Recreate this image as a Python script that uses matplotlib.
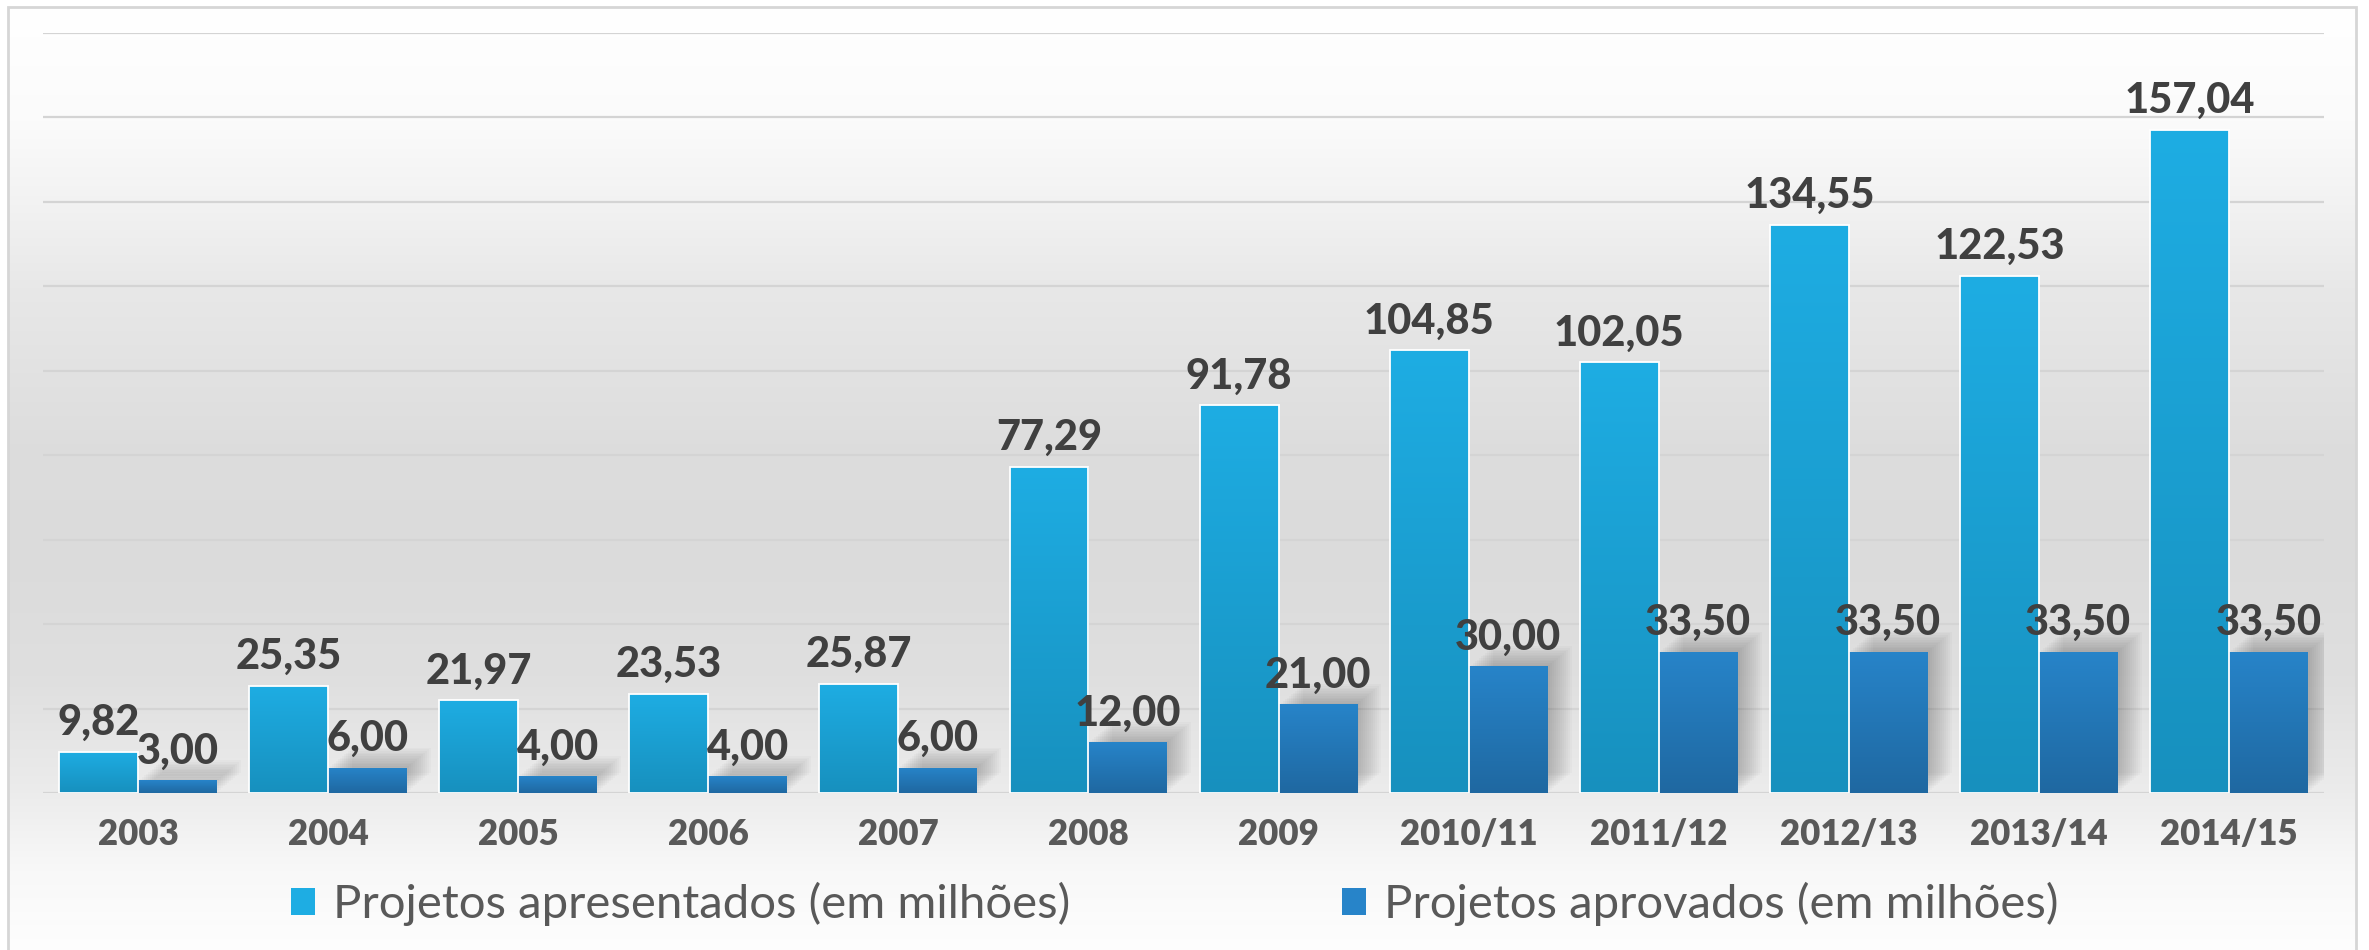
"""Bar chart of submitted vs approved projects (in millions)."""

from matplotlib import pyplot
from matplotlib import patches, transforms
import numpy

# Data.
periods = ['2003', '2004', '2005', '2006', '2007', '2008', '2009',
           '2010/11', '2011/12', '2012/13', '2013/14', '2014/15']
apresentados = [9.82, 25.35, 21.97, 23.53, 25.87, 77.29, 91.78,
                104.85, 102.05, 134.55, 122.53, 157.04]
aprovados = [3.00, 6.00, 4.00, 4.00, 6.00, 12.00, 21.00,
             30.00, 33.50, 33.50, 33.50, 33.50]
series_labels = ['Projetos apresentados (em milhões)',
                 'Projetos aprovados (em milhões)']

# Colours (top / bottom of the vertical gradients).
color_apr = ('#1eade3', '#1790be')
color_aprov = ('#2784c9', '#1f68a1')
text_dark = '#404040'
text_grey = '#595959'

pyplot.rcParams['font.family'] = ['Lato', 'DejaVu Sans']

W, H = 2369, 950
fig = pyplot.figure(figsize=(W / 100, H / 100), dpi=100)
fig.patch.set_facecolor('white')


def gradient(top, bottom, n=256):
    """Return an (n, 1, 3) array going from top colour to bottom colour."""
    c0 = numpy.array(pyplot.matplotlib.colors.to_rgb(top))
    c1 = numpy.array(pyplot.matplotlib.colors.to_rgb(bottom))
    t = numpy.linspace(0.0, 1.0, n)[:, None]
    return (c0 + (c1 - c0) * t)[:, None, :]


# Background panel with a soft grey gradient and a thin frame.
fx0, fy0, fx1 = 8 / W, 7 / H, 2356 / W
bg = fig.add_axes([fx0, 0.0, fx1 - fx0, 1.0 - fy0], zorder=-10)
bg.set_axis_off()
ys = numpy.linspace(7, 950, 400)
stops_y = [7, 118, 202, 287, 450, 560, 680, 793, 870, 950]
stops_v = [1.0, 0.985, 0.95, 0.91, 0.865, 0.86, 0.875, 0.925, 0.972, 0.995]
vals = numpy.interp(ys, stops_y, stops_v)
bg.imshow(numpy.repeat(vals[:, None, None], 3, axis=2), aspect='auto',
          extent=[0, 1, 0, 1], interpolation='bilinear')
fig.add_artist(patches.Rectangle((fx0, -0.01), fx1 - fx0, 1.01 - fy0,
                                 transform=fig.transFigure, fill=False,
                                 edgecolor='#d6d6d6', linewidth=2.0))

# Main axes.
ax = fig.add_axes([43 / W, 1 - 793 / H, (2324 - 43) / W, (793 - 33) / H])
ax.set_facecolor('none')
x = numpy.arange(len(periods))
width = 0.415

bars1 = ax.bar(x - width / 2, apresentados, width, facecolor='none',
               edgecolor='white', linewidth=1.3, zorder=3)
bars2 = ax.bar(x + width / 2, aprovados, width, facecolor='none',
               edgecolor='none', linewidth=0, zorder=3)

# Fill the bars with vertical gradients.
for bars, cols in ((bars1, color_apr), (bars2, color_aprov)):
    img = gradient(*cols)
    for bar in bars:
        bx, by = bar.get_x(), bar.get_y()
        bw, bh = bar.get_width(), bar.get_height()
        im = ax.imshow(img, extent=[bx, bx + bw, by, by + bh],
                       aspect='auto', zorder=2, interpolation='bilinear')
        im.set_clip_path(bar)

# Soft diagonal shadow behind the approved bars.
nlay = 12
for bar in bars2:
    for k in range(1, nlay + 1):
        off = transforms.ScaledTranslation(0.24 * k / nlay, 0.20 * k / nlay,
                                           fig.dpi_scale_trans)
        ax.add_patch(patches.Rectangle(
            (bar.get_x(), 0), bar.get_width(), bar.get_height(),
            transform=ax.transData + off, facecolor='black',
            edgecolor='none', alpha=0.018, zorder=1))

# Value labels with comma as decimal separator.
for bars, vals_ in ((bars1, apresentados), (bars2, aprovados)):
    for bar, v in zip(bars, vals_):
        ax.annotate(f'{v:.2f}'.replace('.', ','),
                    xy=(bar.get_x() + bar.get_width() / 2, v),
                    xytext=(0, 7), textcoords='offset points',
                    ha='center', va='bottom', fontsize=30,
                    fontweight='black', color=text_dark, zorder=4)

ax.set_xlim(-0.5, len(periods) - 0.5)
ax.set_ylim(0, 180)
ax.set_yticks(numpy.arange(0, 181, 20))
ax.yaxis.grid(True, color='#d4d4d4', linewidth=1.6, zorder=0.5)
ax.set_axisbelow(True)
ax.tick_params(axis='y', length=0, labelleft=False)
ax.set_xticks(x, periods)
ax.tick_params(axis='x', length=0, pad=18, labelsize=25,
               labelcolor=text_grey)
for lab in ax.get_xticklabels():
    lab.set_fontweight('heavy')
for side in ax.spines.values():
    side.set_visible(False)

# Legend below the plot.
handles = [patches.Patch(facecolor=color_apr[0], edgecolor='none'),
           patches.Patch(facecolor=color_aprov[0], edgecolor='none')]
fig.legend(handles, series_labels, loc='center',
           bbox_to_anchor=(0.496, 0.048), ncol=2, frameon=False,
           fontsize=34, labelcolor=text_grey, handlelength=0.51,
           handleheight=0.51, handletextpad=0.38, columnspacing=5.76)

fig.savefig('out.png', dpi=100)
